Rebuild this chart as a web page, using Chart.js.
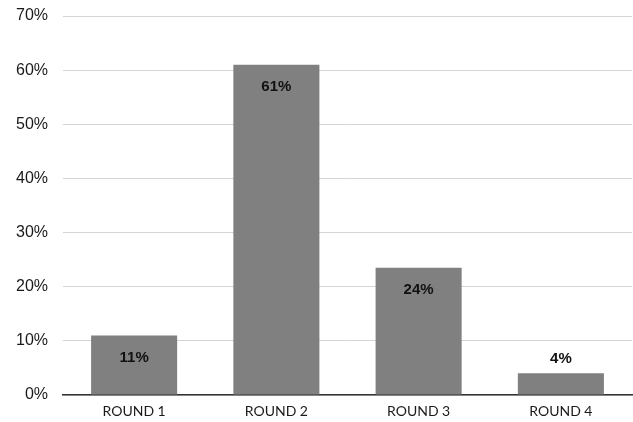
<!DOCTYPE html>
<html>
<head>
<meta charset="utf-8">
<script src="https://cdn.jsdelivr.net/npm/chart.js@4"></script>
<style>
html,body{margin:0;padding:0;background:#fff}
#wrap{width:633px;height:422px}
</style>
</head>
<body>
<div id="wrap"><canvas id="c"></canvas></div>
<script>
let rounds=["ROUND 1","ROUND 2","ROUND 3","ROUND 4"]
let shares=[11,61,23.5,4]
let yTicks=[0,10,20,30,40,50,60,70]

// value labels: inside the bar near its top, above it when the bar is short
let barLabels={
id:"barLabels",
afterDatasetsDraw(chart){
let ctx=chart.ctx
let meta=chart.getDatasetMeta(0)
ctx.save()
ctx.font="bold 15px 'Liberation Sans', Arial, sans-serif"
ctx.fillStyle="#111"
ctx.textAlign="center"
ctx.textBaseline="middle"
meta.data.forEach((bar,i)=>{
let v=shares[i]
let y=v>=10?bar.y+22:bar.y-14
ctx.fillText(Math.round(v)+"%",bar.x,y)
})
ctx.restore()
}
}

new Chart(document.getElementById("c"),{
type:"bar",
data:{
labels:rounds,
datasets:[{
data:shares,
backgroundColor:"#808080",
borderWidth:0,
categoryPercentage:1,
barPercentage:0.605
}]
},
options:{
responsive:true,
maintainAspectRatio:false,
animation:false,
layout:{padding:{top:16,right:1,left:0,bottom:0}},
plugins:{legend:{display:false},tooltip:{enabled:false}},
scales:{
x:{
grid:{display:false,drawTicks:false},
border:{display:true,color:"#333",width:1.5},
ticks:{
color:"#1a1a1a",
padding:8,
font:{family:"Lato, 'Open Sans', sans-serif",size:14}
},
afterFit(s){s.height=27}
},
y:{
min:0,max:70,
afterBuildTicks(s){s.ticks=yTicks.map(v=>({value:v}))},
grid:{color:"#d4d4d4",lineWidth:1,drawTicks:false},
border:{display:false},
ticks:{
color:"#1a1a1a",
padding:15,
font:{family:"'Liberation Sans', Arial, sans-serif",size:16},
callback:v=>v+"%"
},
afterFit(s){s.width=63;s.paddingTop=0;s.paddingBottom=0}
}
}
},
plugins:[barLabels]
})
</script>
</body>
</html>
